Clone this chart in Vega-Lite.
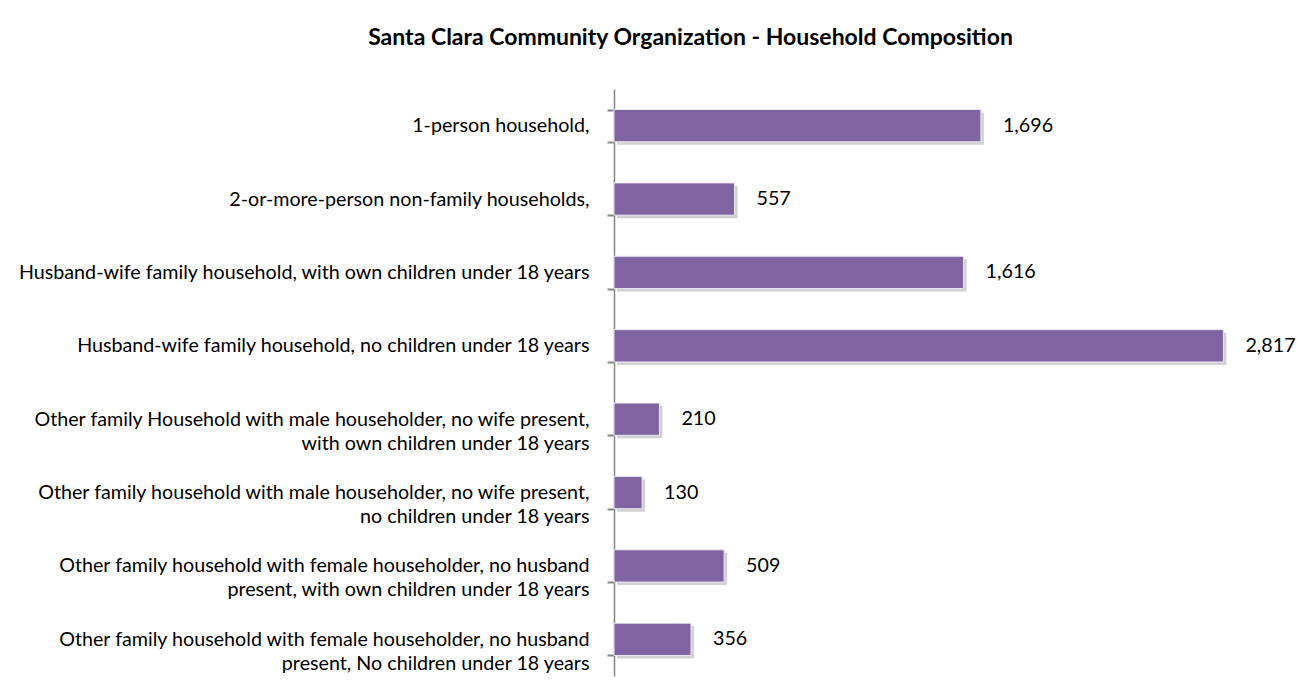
{
  "$schema": "https://vega.github.io/schema/vega-lite/v6.json",
  "autosize": {"type": "none"},
  "width": 649,
  "height": 587,
  "padding": {"left": 614, "top": 89, "right": 34, "bottom": 20},
  "background": "#ffffff",
  "title": {
    "text": "Santa Clara Community Organization - Household Composition",
    "font": "Lato",
    "fontSize": 23,
    "fontWeight": "bold",
    "color": "#000000",
    "anchor": "middle",
    "frame": "group",
    "dx": -248,
    "baseline": "alphabetic",
    "offset": 11
  },
  "data": {
    "values": [
      {"category": "1-person household,", "count": 1696},
      {"category": "2-or-more-person non-family households,", "count": 557},
      {"category": "Husband-wife family household, with own children under 18 years", "count": 1616},
      {"category": "Husband-wife family household, no children under 18 years", "count": 2817},
      {"category": "Other family Household with male householder, no wife present,|with own children under 18 years", "count": 210},
      {"category": "Other family household with male householder, no wife present,|no children under 18 years", "count": 130},
      {"category": "Other family household with female householder, no husband|present, with own children under 18 years", "count": 509},
      {"category": "Other family household with female householder, no husband|present, No children under 18 years", "count": 356}
    ]
  },
  "encoding": {
    "y": {
      "field": "category",
      "type": "nominal",
      "sort": null,
      "scale": {"paddingInner": 0.56, "paddingOuter": 0.28},
      "axis": {
        "title": null,
        "labelExpr": "split(datum.label, '|')",
        "labelFont": "Lato",
        "labelFontSize": 19.7,
        "labelColor": "#000000",
        "labelLineHeight": 24,
        "labelLimit": 700,
        "labelPadding": 18,
        "ticks": true,
        "tickBand": "extent",
        "tickSize": 7,
        "tickColor": "#868686",
        "tickWidth": 2,
        "tickOpacity": 1,
        "domain": true,
        "domainColor": "#868686",
        "domainWidth": 1.5,
        "grid": false
      }
    },
    "x": {
      "field": "count",
      "type": "quantitative",
      "scale": {"domain": [0, 3000], "nice": false},
      "axis": null
    }
  },
  "layer": [
    {
      "mark": {"type": "bar", "color": "#000000", "opacity": 0.18, "xOffset": 3, "yOffset": 3}
    },
    {
      "mark": {"type": "bar", "color": "#8064A2", "stroke": "#ECE8F2", "strokeWidth": 1}
    },
    {
      "mark": {"type": "text", "align": "left", "baseline": "middle", "dx": 22, "font": "Lato", "fontSize": 19.7, "color": "#000000"},
      "encoding": {"text": {"field": "count", "type": "quantitative", "format": ","}}
    }
  ],
  "config": {"view": {"stroke": null}}
}
